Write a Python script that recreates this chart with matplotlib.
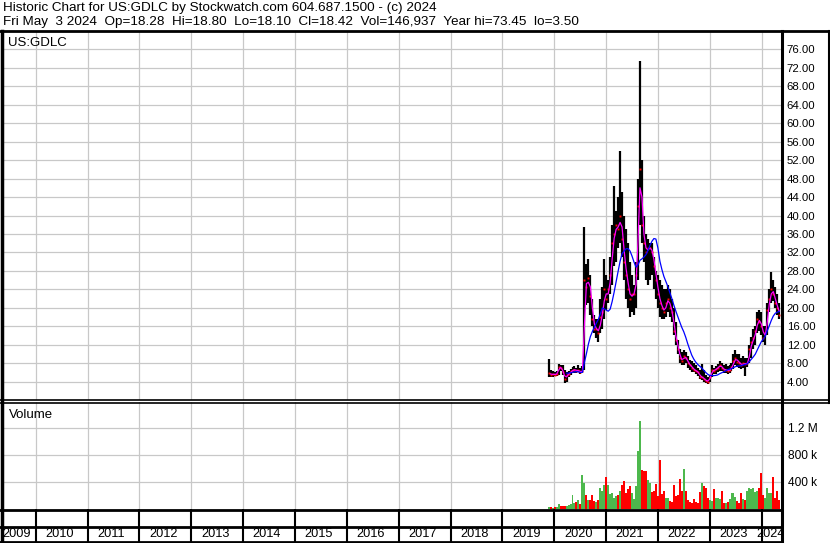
import matplotlib
matplotlib.use("Agg")
import matplotlib.pyplot as plt
from matplotlib.lines import Line2D
import pandas as pd

# ====== data (biweekly bars) ======
LAST_DATE = "2024-05-03"

hi = [8.9, 6.5, 6.2, 6.0, 6.2, 7.8, 7.6, 7.5, 6.5, 6.0,
      6.3, 6.8, 7.2, 7.3, 7.0, 7.5, 7.0, 7.3, 37.6, 29.5,
      30.5, 27.0, 22.0, 18.5, 17.5, 17.5, 22.0, 24.5, 30.5, 27.0,
      26.0, 31.0, 38.0, 46.5, 41.0, 44.0, 54.0, 45.0, 40.0, 37.0,
      34.0, 30.0, 27.0, 25.0, 30.0, 48.0, 73.45, 52.0, 40.0, 36.0,
      35.0, 34.0, 34.0, 31.0, 28.0, 27.0, 26.0, 25.0, 24.0, 24.0,
      25.0, 24.0, 22.0, 20.0, 17.0, 13.0, 11.0, 10.5, 10.8, 10.5,
      9.5, 8.6, 8.5, 8.0, 7.5, 7.0, 6.5, 7.8, 6.5, 5.5,
      5.0, 5.5, 7.5, 7.0, 7.3, 7.8, 8.4, 8.0, 7.5, 7.8,
      7.3, 7.5, 8.0, 10.0, 10.8, 10.0, 10.0, 9.0, 9.5, 9.0,
      9.0, 12.0, 13.7, 15.5, 16.0, 19.0, 19.5, 19.0, 16.0, 16.0,
      21.0, 24.0, 27.8, 26.0, 24.5, 23.0, 21.0]

lo = [5.0, 5.0, 5.0, 5.1, 5.2, 5.5, 6.2, 5.5, 3.6, 3.8,
      5.0, 5.5, 5.8, 5.9, 5.8, 6.0, 5.7, 5.8, 6.5, 20.5,
      21.0, 18.5, 16.0, 14.5, 13.5, 12.5, 14.5, 15.5, 17.5, 19.5,
      21.0, 23.0, 25.0, 29.0, 30.0, 33.0, 34.0, 31.0, 26.0, 22.0,
      20.0, 18.0, 19.0, 18.5, 20.0, 26.0, 38.0, 34.0, 30.0, 26.0,
      25.0, 26.0, 27.0, 24.0, 22.0, 20.0, 18.0, 17.5, 17.5, 18.0,
      19.0, 18.0, 17.0, 14.0, 12.0, 10.0, 8.0, 7.5, 7.5, 8.0,
      7.0, 6.5, 6.0, 6.0, 5.7, 5.2, 4.5, 4.3, 4.0, 3.6,
      3.5, 3.8, 5.0, 5.7, 5.7, 6.0, 6.3, 6.2, 5.8, 5.8,
      5.7, 5.8, 6.2, 6.8, 7.5, 7.2, 7.0, 6.8, 7.0, 5.3,
      7.2, 8.0, 9.0, 11.0, 12.0, 14.5, 15.0, 14.0, 12.5, 12.0,
      14.0, 19.0, 21.0, 21.5, 20.0, 18.5, 17.5]

cl = [5.8, 5.5, 5.6, 5.5, 5.7, 7.2, 7.0, 6.0, 4.5, 5.5,
      5.7, 6.2, 6.5, 6.6, 6.3, 6.4, 6.0, 6.3, 26.0, 24.5,
      26.5, 22.5, 17.5, 15.5, 15.5, 14.5, 18.0, 19.0, 24.0, 22.0,
      24.0, 27.0, 34.0, 36.0, 38.0, 37.0, 40.0, 35.0, 30.0, 27.0,
      24.0, 22.0, 23.0, 23.0, 27.0, 42.0, 50.0, 38.0, 34.0, 32.0,
      33.0, 33.0, 32.0, 29.0, 26.0, 23.0, 21.0, 20.0, 19.0, 21.0,
      22.0, 20.0, 19.0, 15.0, 13.0, 11.0, 9.0, 8.5, 9.5, 9.0,
      8.0, 7.5, 7.0, 6.5, 6.3, 6.0, 5.0, 5.0, 4.5, 4.2,
      4.0, 5.0, 6.5, 6.3, 6.8, 7.0, 7.6, 7.0, 6.5, 6.6,
      6.3, 6.6, 7.2, 8.5, 9.0, 8.3, 8.0, 7.5, 8.0, 7.8,
      8.0, 11.0, 12.5, 13.5, 15.0, 17.5, 17.0, 16.0, 13.5, 14.5,
      19.5, 22.0, 24.0, 23.0, 21.0, 20.0, 18.42]

vol = [30, 30, 20, 30, 30, 80, 50, 40, 40, 50,
       60, 80, 200, 90, 100, 140, 80, 510, 385, 200,
       140, 130, 210, 120, 110, 130, 310, 260, 350, 480,
       360, 220, 230, 160, 190, 200, 260, 360, 420, 240,
       290, 340, 230, 150, 340, 855, 1310, 580, 570, 560,
       435, 390, 250, 270, 375, 190, 730, 220, 260, 160,
       160, 120, 110, 360, 190, 200, 445, 260, 590, 270,
       130, 100, 90, 150, 100, 90, 250, 385, 340, 310,
       160, 130, 120, 300, 170, 170, 150, 270, 90, 90,
       110, 150, 240, 240, 180, 120, 90, 240, 150, 130,
       260, 310, 300, 310, 250, 260, 310, 540, 200, 170,
       310, 240, 240, 475, 160, 260, 140]  # thousands

years = list(range(2009, 2025))
price_ticks = list(range(4, 80, 4))
vol_ticks = [400e3, 800e3, 1.2e6]
vol_labels = ["400 k", "800 k", "1.2 M"]

title1 = "Historic Chart for US:GDLC by Stockwatch.com 604.687.1500 - (c) 2024"
title2 = ("Fri May  3 2024  Op=18.28  Hi=18.80  Lo=18.10  Cl=18.42  "
          "Vol=146,937  Year hi=73.45  lo=3.50")

# ====== prep ======
dates = pd.date_range(end=LAST_DATE, periods=len(cl), freq="14D")
x = (dates.year + (dates.dayofyear - 1) / 365.25).to_numpy()
close = pd.Series(cl)
ma_short = close.rolling(2).mean()
ma_long = close.rolling(10).mean()
vol_colors = ["#ff0000" if i > 0 and cl[i] < cl[i - 1] else "#4db84d"
              for i in range(len(cl))]

W, H = 830, 543
XMIN, XMAX = 2009.35, 2024.39
GRID = "#c8c8c8"
FONT = ["Liberation Sans", "DejaVu Sans"]

fig = plt.figure(figsize=(W / 100, H / 100), dpi=100)
fig.patch.set_facecolor("white")


def px_axes(x0, y0, x1, y1):
    a = fig.add_axes([x0 / W, 1 - y1 / H, (x1 - x0) / W, (y1 - y0) / H])
    for s in a.spines.values():
        s.set_visible(False)
    a.set_xlim(XMIN, XMAX)
    return a


def hline(y, x0, x1, lw=1.5):
    fig.add_artist(Line2D([x0 / W, x1 / W], [1 - y / H, 1 - y / H],
                          transform=fig.transFigure, color="black", lw=lw))


def vline(xp, y0, y1, lw=1.5):
    fig.add_artist(Line2D([xp / W, xp / W], [1 - y0 / H, 1 - y1 / H],
                          transform=fig.transFigure, color="black", lw=lw))


# ====== price panel ======
ax = px_axes(2, 31, 782, 400)
ax.set_ylim(0, 80)
ax.set_xticks(years[1:])
ax.set_yticks(price_ticks)
ax.grid(True, color=GRID, lw=0.9)
ax.set_axisbelow(True)
ax.tick_params(length=0, labelbottom=False, labelleft=False,
               labelright=True, pad=3.5)
ax.set_yticklabels([f"{v:.2f}" for v in price_ticks], family=FONT,
                   fontsize=8.2)

ax.vlines(x, lo, hi, color="black", lw=1.6)
ax.plot(x, cl, ls="none", marker="s", ms=1.4, color="#ff0000", mew=0)
ax.plot(x, ma_short, color="#ff00ff", lw=0.9)
ax.plot(x, ma_long, color="#0000ff", lw=0.9)
ax.text(0.0075, 0.985, "US:GDLC", transform=ax.transAxes, va="top",
        ha="left", family=FONT, fontsize=9.5)

# ====== volume panel ======
axv = px_axes(2, 402, 782, 509)
axv.set_ylim(0, 1.585e6)
axv.set_xticks(years[1:])
axv.set_yticks(vol_ticks)
axv.grid(True, color=GRID, lw=0.9)
axv.set_axisbelow(True)
axv.tick_params(length=0, labelbottom=False, labelleft=False,
                labelright=True, pad=4.5)
axv.set_yticklabels(vol_labels, family=FONT, fontsize=8.6)
axv.bar(x, [v * 1000 for v in vol], width=14 / 365.25, color=vol_colors,
        align="center", lw=0)
axv.text(0.009, 0.93, "Volume", transform=axv.transAxes, va="top",
         ha="left", family=FONT, fontsize=9.5)

# ====== date strip ======
axd = px_axes(2, 509, 782, 542)
axd.set_ylim(0, 1)
axd.set_xticks([])
axd.set_yticks([])
axd.vlines(years[1:], 0, 1, color="black", lw=1.5)
for yr in years:
    if yr == years[0]:
        axd.text(XMIN, 0.23, str(yr), ha="left", va="center",
                 family=FONT, fontsize=9.2)
    elif yr == years[-1]:
        axd.text(XMAX + 0.06, 0.23, str(yr), ha="right", va="center",
                 family=FONT, fontsize=9.2, clip_on=False)
    else:
        axd.text(yr + 0.46, 0.23, str(yr), ha="center", va="center",
                 family=FONT, fontsize=9.2)

# ====== frame lines ======
hline(31, 0, W, lw=2)
hline(400, 0, W, lw=1.2)
hline(403, 0, W, lw=1.2)
hline(509.5, 0, 782, lw=2)
hline(527, 0, 782, lw=2)
hline(542, 0, 782, lw=2)
vline(1.5, 31, H, lw=2.5)
vline(782, 31, H, lw=2.2)
vline(828.5, 31, 403, lw=1.5)

# ====== header ======
fig.text(3 / W, 1 - 7.5 / H, title1, ha="left", va="center",
         family=FONT, fontsize=9.7)
fig.text(3 / W, 1 - 22.5 / H, title2, ha="left", va="center",
         family=FONT, fontsize=9.7)

fig.savefig("out.png", dpi=100, facecolor="white")
